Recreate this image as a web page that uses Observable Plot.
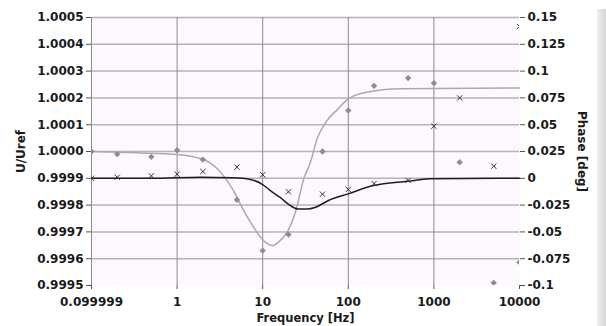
<!DOCTYPE html>
<html>
<head>
<meta charset="utf-8">
<script src="https://cdn.jsdelivr.net/npm/d3@7"></script>
<script src="https://cdn.jsdelivr.net/npm/@observablehq/plot@0.6"></script>
<style>
  html, body { margin: 0; padding: 0; background: #fff; }
  #wrap { position: relative; width: 606px; height: 326px; overflow: hidden; }
  #bar { position: absolute; left: 597px; top: 9px; width: 9px; height: 317px;
         background: linear-gradient(to right, #eeeeee, #d6d6d6); }
</style>
</head>
<body>
<div id="wrap"><div id="bar"></div></div>
<script>
// Measured points
const freqs = [0.1, 0.2, 0.5, 1, 2, 5, 10, 20, 50, 100, 200, 500, 1000, 2000, 5000, 10000];
const uRatio = [1.00000, 0.99999, 0.99998, 1.000005, 0.99997, 0.99982, 0.99963, 0.99969, 1.00000, 1.000153, 1.000245, 1.000274, 1.000255, 0.99996, 0.99951, 0.999587];
const phaseDeg = [0, 0.001, 0.0023, 0.0038, 0.0063, 0.0104, 0.0033, -0.0126, -0.0148, -0.0104, -0.0049, -0.002, 0.0486, 0.075, 0.0113, 0.1416];

// Fitted curves
const uFitFreq = [0.1, 0.34, 1, 2.03, 2.66, 3.48, 4.56, 5.97, 7.82, 9.43, 11.3, 12.9, 15.3, 19.3, 24.2, 30, 36.1, 43.6, 54.2, 74.8, 100, 159, 407, 10000];
const uFit = [1.0, 0.999995, 0.999989, 0.99997, 0.999948, 0.99991, 0.999854, 0.99978, 0.999718, 0.99968, 0.999656, 0.999649, 0.999662, 0.999699, 0.999775, 0.999895, 0.99996, 1.00005, 1.000108, 1.000157, 1.000196, 1.00022, 1.000234, 1.000237];
const phaseFitFreq = [0.1, 0.5, 1.87, 4.5, 7.2, 10, 12.3, 16, 21, 26, 33.4, 41.5, 58.6, 100, 197, 490, 912, 10000];
const phaseFit = [0, 0, 0.001, 0.0005, -0.0011, -0.0058, -0.0115, -0.0178, -0.0254, -0.0287, -0.0287, -0.027, -0.0207, -0.0145, -0.0068, -0.0028, -0.0005, 0];

// Axis ticks
const xTicks = [0.099999, 1, 10, 100, 1000, 10000];
const xTickLabels = ["0.099999", "1", "10", "100", "1000", "10000"];
const leftTicks = [0.9995, 0.9996, 0.9997, 0.9998, 0.9999, 1.0000, 1.0001, 1.0002, 1.0003, 1.0004, 1.0005];
const rightTicks = [-0.1, -0.075, -0.05, -0.025, 0, 0.025, 0.05, 0.075, 0.1, 0.125, 0.15];

// Phase (right axis) -> left-axis coordinate
const toLeft = p => 0.9999 + p * 0.004;
const fromLeft = v => Math.round(((v - 0.9999) / 0.004) * 1000) / 1000;

const points = freqs.map((f, i) => ({f, u: uRatio[i], p: toLeft(phaseDeg[i])}));
const uFitData = uFitFreq.map((f, i) => ({f, v: uFit[i]}));
const pFitData = phaseFitFreq.map((f, i) => ({f, v: toLeft(phaseFit[i])}));
const rightTickPos = rightTicks.map(toLeft);

const chart = Plot.plot({
  width: 606,
  height: 326,
  marginLeft: 91,
  marginRight: 87,
  marginTop: 17,
  marginBottom: 41,
  style: {fontFamily: "DejaVu Sans", fontSize: "12px", fontWeight: "bold", color: "#1a1a1a", background: "transparent"},
  x: {type: "log", domain: [0.099999, 10000], axis: null},
  y: {domain: [0.9995, 1.0005], axis: null},
  marks: [
    Plot.frame({fill: "#fdf8fd", stroke: null}),
    Plot.gridY(leftTicks.slice(1), {stroke: "#b4b4b4", strokeOpacity: 1, strokeWidth: 1.5}),
    Plot.gridX([1, 10, 100, 1000], {stroke: "#8c8c8c", strokeOpacity: 1, strokeWidth: 1}),
    Plot.ruleX([0.099999], {stroke: "#8c8c8c", strokeWidth: 1}),
    Plot.line(uFitData, {x: "f", y: "v", stroke: "#aaaaaa", strokeWidth: 1.5, curve: "monotone-x"}),
    Plot.line(pFitData, {x: "f", y: "v", stroke: "#1e1e1e", strokeWidth: 1.5, curve: "monotone-x"}),
    Plot.dot(points, {x: "f", y: "u", symbol: "diamond2", r: 2.6, fill: "#8c8c8c", stroke: "#8c8c8c", strokeWidth: 0.5, clip: true}),
    Plot.dot(points, {x: "f", y: "p", symbol: "times", r: 2.5, stroke: "#333333", strokeWidth: 1, clip: true}),
    Plot.axisY(leftTicks, {anchor: "left", tickSize: 5, tickPadding: 3, stroke: "#555", fill: "#1a1a1a", tickFormat: d3.format(".4f"), label: null}),
    Plot.axisY(rightTickPos, {anchor: "right", tickSize: 5, tickPadding: 3, stroke: "#555", fill: "#1a1a1a", tickFormat: d => String(fromLeft(d) === 0 ? 0 : fromLeft(d)), label: null}),
    Plot.axisX(xTicks, {anchor: "bottom", tickSize: 4, tickPadding: 8, stroke: "#555", fill: "#1a1a1a", tickFormat: d => xTickLabels[xTicks.indexOf(d)], label: null}),
    Plot.text(["U/Uref"], {frameAnchor: "left", dx: -70, rotate: -90, textAnchor: "middle", lineAnchor: "middle", fill: "#1a1a1a", fontSize: 12, fontWeight: "bold"}),
    Plot.text(["Phase [deg]"], {frameAnchor: "right", dx: 62, rotate: 90, textAnchor: "middle", lineAnchor: "middle", fill: "#1a1a1a", fontSize: 12, fontWeight: "bold"}),
    Plot.text(["Frequency [Hz]"], {frameAnchor: "bottom", dy: 33, textAnchor: "middle", lineAnchor: "middle", fill: "#1a1a1a", fontSize: 11.5, fontWeight: "bold"})
  ]
});
document.getElementById("wrap").insertBefore(chart, document.getElementById("bar"));
</script>
</body>
</html>
